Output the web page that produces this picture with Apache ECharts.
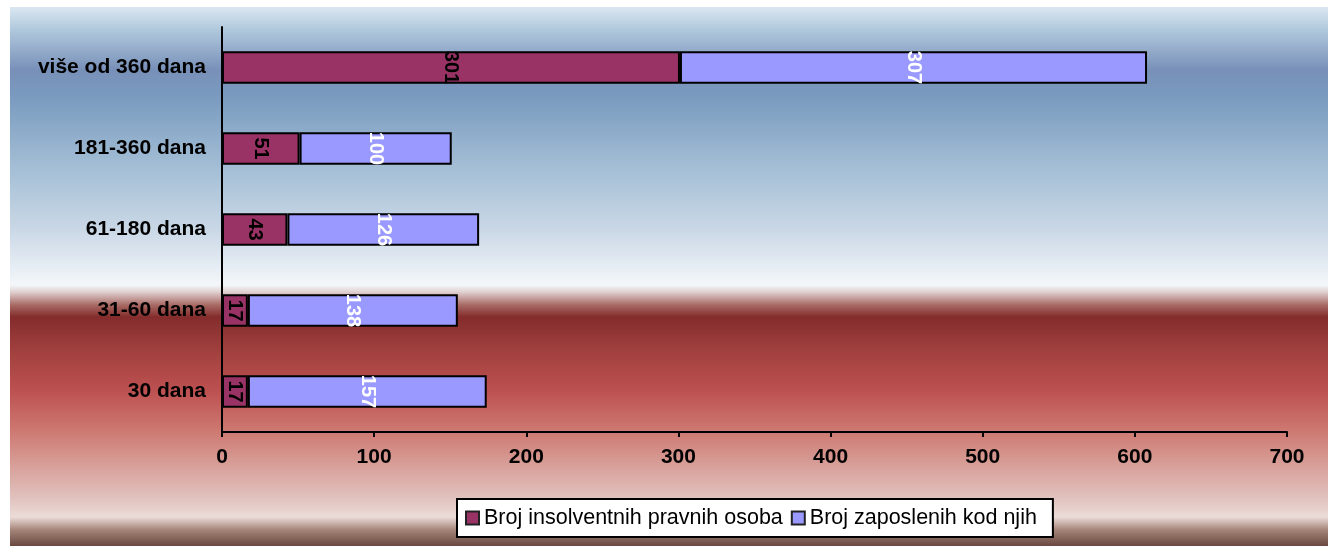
<!DOCTYPE html>
<html>
<head>
<meta charset="utf-8">
<script src="https://cdn.jsdelivr.net/npm/echarts@6/dist/echarts.min.js"></script>
<style>
html,body{margin:0;padding:0;background:#fff;}
#c{width:1328px;height:546px;}
</style>
</head>
<body>
<div id="c"></div>
<script>
var categories = ['30 dana', '31-60 dana', '61-180 dana', '181-360 dana', 'više od 360 dana'];
var insolventni = [17, 17, 43, 51, 301];
var zaposleni = [157, 138, 126, 100, 307];
var seriesNames = ['Broj insolventnih pravnih osoba', 'Broj zaposlenih kod njih'];
var xTicks = { min: 0, max: 700, interval: 100 };

var H0 = 7, H1 = 546;
function off(y) { return (y - H0) / (H1 - H0); }
var bgStops = [
  [7, '#dae7f1'], [30, '#b0c8dc'], [70, '#7890b8'], [100, '#7b9cc0'],
  [170, '#a5bfd6'], [230, '#cad8e6'], [285, '#f4f7fa'], [292, '#e0d0d0'],
  [305, '#a86a64'], [317, '#842c2c'], [350, '#a0403e'], [390, '#bc5050'],
  [430, '#cd7870'], [470, '#d9a49e'], [500, '#e2c4c0'], [517, '#ecdcd8'],
  [530, '#a48478'], [546, '#6a4840']
].map(function (s) { return { offset: off(s[0]), color: s[1] }; });

var chart = echarts.init(document.getElementById('c'));
var font = 'Arial, "Liberation Sans", sans-serif';
chart.setOption({
  backgroundColor: '#ffffff',
  animation: false,
  graphic: [{
    type: 'rect', z: -100, silent: true,
    shape: { x: 10, y: H0, width: 1318, height: H1 - H0 },
    style: { fill: { type: 'linear', x: 0, y: 0, x2: 0, y2: 1, colorStops: bgStops } }
  }],
  grid: { left: 222, right: 41, top: 27, bottom: 114, containLabel: false },
  legend: {
    left: 457, top: 499,
    padding: [8, 16, 8, 8],
    itemGap: 8,
    itemWidth: 13, itemHeight: 13,
    icon: 'rect',
    backgroundColor: '#ffffff',
    borderColor: '#000000', borderWidth: 2,
    textStyle: { fontFamily: font, fontSize: 21.5, color: '#000', padding: [0, 0, 0, 0] },
    data: seriesNames.map(function (n) { return { name: n, itemStyle: { borderColor: '#222', borderWidth: 2 } }; })
  },
  xAxis: {
    type: 'value', min: xTicks.min, max: xTicks.max, interval: xTicks.interval,
    axisLine: { show: true, lineStyle: { color: '#000', width: 2 } },
    axisTick: { show: true, length: 5, lineStyle: { color: '#000', width: 2 } },
    axisLabel: { color: '#000', fontFamily: font, fontWeight: 'bold', fontSize: 21, margin: 15 },
    splitLine: { show: false }
  },
  yAxis: {
    type: 'category', data: categories,
    axisLine: { show: true, lineStyle: { color: '#000', width: 2 } },
    axisTick: { show: false },
    axisLabel: { color: '#000', fontFamily: font, fontWeight: 'bold', fontSize: 21, margin: 16 }
  },
  series: [{
    name: seriesNames[0], type: 'bar', stack: 't', data: insolventni, barWidth: '40%',
    itemStyle: { color: '#993366', borderColor: '#000', borderWidth: 2 },
    label: { show: true, position: 'inside', rotate: -90, color: '#000', fontFamily: font, fontWeight: 'bold', fontSize: 20 }
  }, {
    name: seriesNames[1], type: 'bar', stack: 't', data: zaposleni, barWidth: '40%',
    itemStyle: { color: '#9999ff', borderColor: '#000', borderWidth: 2 },
    label: { show: true, position: 'inside', rotate: -90, color: '#fff', fontFamily: font, fontWeight: 'bold', fontSize: 20 }
  }]
});
</script>
</body>
</html>
